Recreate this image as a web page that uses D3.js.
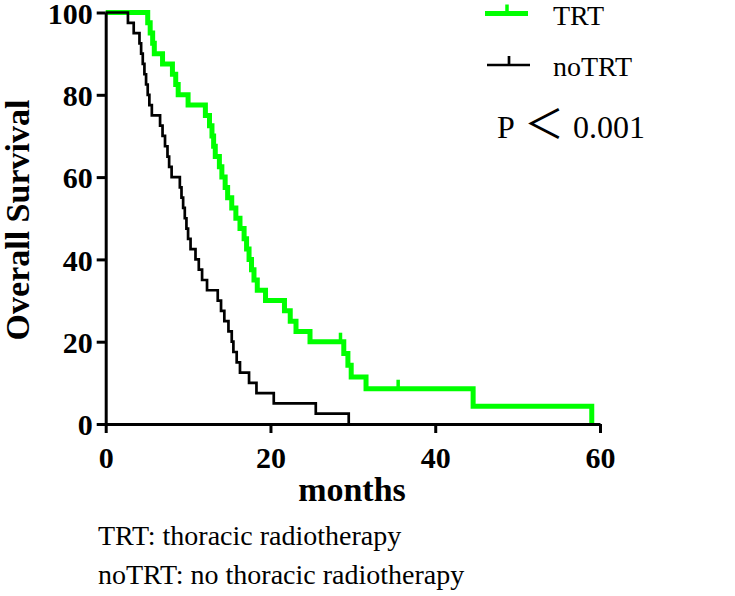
<!DOCTYPE html>
<html><head><meta charset="utf-8">
<script src="https://cdn.jsdelivr.net/npm/d3@7"></script>
<style>body{margin:0;background:#fff}svg{display:block}</style></head>
<body>
<svg id="c" width="735" height="596"></svg>
<script>
// ---- data ----
const xTicks = [0, 20, 40, 60];
const yTicks = [0, 20, 40, 60, 80, 100];
const seriesNames = ["TRT", "noTRT"];
const seriesColors = ["#00ff00", "#000000"];

// TRT: event times (months) and survival (%) after each step
const trtTime = [5.1, 5.4, 5.7, 5.9, 6.9, 8.1, 8.5, 8.8, 10.0, 12.1, 12.6, 12.9, 13.1, 13.3, 13.8, 14.1, 14.5, 14.8, 15.3, 15.8, 16.3, 16.8, 17.1, 17.4, 17.7, 18.0, 18.4, 19.4, 21.7, 22.4, 23.1, 24.8, 28.9, 29.4, 29.8, 31.6, 44.6, 59.0];
const trtSurv = [97.5, 95, 92.5, 90, 87.5, 85, 82.5, 80, 77.5, 75, 72.5, 70, 67.5, 65, 62.5, 60, 57.5, 55, 52.5, 50, 47.5, 45, 42.5, 40, 37.5, 35, 32.5, 30, 27.5, 25, 22.5, 20, 17.14, 14.29, 11.43, 8.57, 4.29, 0];
const trtCensorTime = [28.5, 35.5];
const trtCensorSurv = [20, 8.57];

// noTRT
const noTime = [2.7, 3.4, 4.1, 4.3, 4.5, 4.7, 4.9, 5.1, 5.3, 5.6, 6.6, 6.9, 7.2, 7.5, 7.7, 8.0, 9.0, 9.2, 9.4, 9.6, 9.8, 10.0, 10.3, 10.9, 11.3, 11.7, 12.3, 13.6, 14.0, 14.4, 14.9, 15.3, 15.5, 15.9, 16.3, 17.4, 18.3, 20.4, 25.5, 29.5];
const noSurv = [97.5, 95, 92.5, 90, 87.5, 85, 82.5, 80, 77.5, 75, 72.5, 70, 67.5, 65, 62.5, 60, 57.5, 55, 52.5, 50, 47.5, 45, 42.5, 40, 37.5, 35, 32.5, 30, 27.5, 25, 22.5, 20, 17.5, 15, 12.5, 10, 7.5, 5, 2.5, 0];

const pParts = ["P", "＜", "0.001"];
const captions = ["TRT: thoracic radiotherapy", "noTRT: no thoracic radiotherapy"];

// ---- drawing ----
const svg = d3.select("#c");
const serif = "'Liberation Serif','Times New Roman',serif";
const x = d3.scaleLinear().domain([0, 60]).range([105.7, 600]);
const y = d3.scaleLinear().domain([0, 100]).range([424, 12.5]);

const toPts = (t, s) => [[0, 100]].concat(t.map((ti, i) => [ti, s[i]]));
const line = d3.line().x(d => x(d[0])).y(d => y(d[1])).curve(d3.curveStepAfter);

// TRT curve (drawn first)
svg.append("path").datum(toPts(trtTime, trtSurv))
  .attr("d", line).attr("fill", "none")
  .attr("stroke", seriesColors[0]).attr("stroke-width", 5);
svg.append("g").selectAll("line").data(trtCensorTime).join("line")
  .attr("x1", d => x(d)).attr("x2", d => x(d))
  .attr("y1", (d, i) => y(trtCensorSurv[i]) + 2)
  .attr("y2", (d, i) => y(trtCensorSurv[i]) - 9)
  .attr("stroke", seriesColors[0]).attr("stroke-width", 3.5);

// noTRT curve
svg.append("path").datum(toPts(noTime, noSurv))
  .attr("d", line).attr("fill", "none")
  .attr("stroke", seriesColors[1]).attr("stroke-width", 2.7);

// axes
const xAxis = svg.append("g").attr("transform", `translate(0,${y(0)})`)
  .call(d3.axisBottom(x).tickValues(xTicks).tickSize(9).tickSizeOuter(0).tickPadding(14));
const yAxis = svg.append("g").attr("transform", `translate(${x(0)},0)`)
  .call(d3.axisLeft(y).tickValues(yTicks).tickSize(9).tickSizeOuter(0).tickPadding(4));
[xAxis, yAxis].forEach(g => {
  g.selectAll("path,line").attr("stroke", "#000").attr("stroke-width", 3);
  g.selectAll("text").attr("font-family", serif).attr("font-weight", "bold")
    .attr("font-size", 30).attr("fill", "#000");
});
yAxis.selectAll("text").attr("dy", "0.36em");
xAxis.selectAll("text").attr("dy", "0.71em");

// axis titles
svg.append("text").attr("x", 352).attr("y", 501).attr("text-anchor", "middle")
  .attr("font-family", serif).attr("font-weight", "bold").attr("font-size", 34)
  .text("months");
svg.append("text").attr("transform", "translate(29,220) rotate(-90)")
  .attr("text-anchor", "middle")
  .attr("font-family", serif).attr("font-weight", "bold").attr("font-size", 34)
  .text("Overall Survival");

// legend
const legY = [13.5, 65];
const legX = [485, 487];
seriesNames.forEach((n, i) => {
  const g = svg.append("g");
  g.append("line").attr("x1", legX[i]).attr("x2", legX[i] + 43)
    .attr("y1", legY[i]).attr("y2", legY[i])
    .attr("stroke", seriesColors[i]).attr("stroke-width", i === 0 ? 5 : 2.7);
  g.append("line").attr("x1", legX[i] + 22).attr("x2", legX[i] + 22)
    .attr("y1", legY[i]).attr("y2", legY[i] - 9)
    .attr("stroke", seriesColors[i]).attr("stroke-width", i === 0 ? 3.5 : 2.7);
  g.append("text").attr("x", 553).attr("y", legY[i] + 11)
    .attr("font-family", serif).attr("font-size", 28).text(n);
});

// p-value
const pt = svg.append("text").attr("y", 138).attr("font-family", serif).attr("font-size", 32);
pt.append("tspan").attr("x", 497).text(pParts[0]);
pt.append("tspan").attr("x", 524).attr("font-family", "'Noto Sans CJK SC','Noto Sans CJK JP',sans-serif")
  .attr("font-size", 40).text(pParts[1]);
pt.append("tspan").attr("x", 573).text(pParts[2]);

captions.forEach((c, i) => {
  svg.append("text").attr("x", 98).attr("y", 545 + i * 39)
    .attr("font-family", serif).attr("font-size", 28).text(c);
});
</script>
</body></html>
